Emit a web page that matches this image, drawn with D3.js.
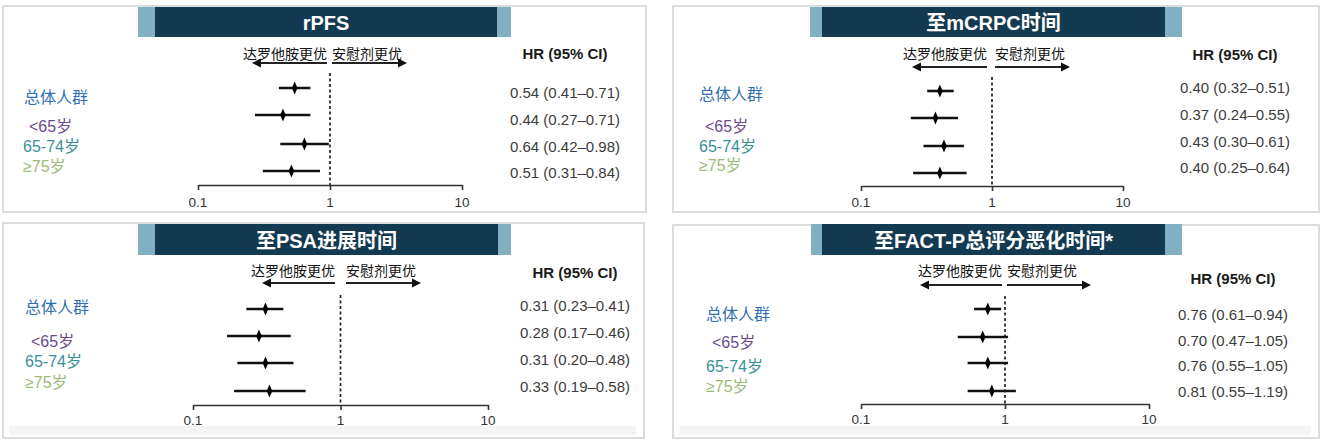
<!DOCTYPE html>
<html>
<head>
<meta charset="utf-8">
<script src="https://cdn.jsdelivr.net/npm/d3@7"></script>
<style>
  html, body { margin: 0; padding: 0; background: #fff; }
  svg { display: block; }
  text { font-family: "Liberation Sans", Arial, "Noto Sans CJK SC", sans-serif; }
</style>
</head>
<body>
<svg id="chart" width="1333" height="446"></svg>
<script>
// ---------- DATA ----------
const panelTitles = ["rPFS", "至mCRPC时间", "至PSA进展时间", "至FACT-P总评分恶化时间*"];
const subgroups = ["总体人群", "<65岁", "65-74岁", "≥75岁"];
const favorLabels = ["达罗他胺更优", "安慰剂更优"];
const hrHeader = "HR (95% CI)";
const tickValues = [0.1, 1, 10];
const tickLabels = ["0.1", "1", "10"];

const hrRPFS = [0.54, 0.44, 0.64, 0.51];
const loRPFS = [0.41, 0.27, 0.42, 0.31];
const hiRPFS = [0.71, 0.71, 0.98, 0.84];

const hrMCRPC = [0.40, 0.37, 0.43, 0.40];
const loMCRPC = [0.32, 0.24, 0.30, 0.25];
const hiMCRPC = [0.51, 0.55, 0.61, 0.64];

const hrPSA = [0.31, 0.28, 0.31, 0.33];
const loPSA = [0.23, 0.17, 0.20, 0.19];
const hiPSA = [0.41, 0.46, 0.48, 0.58];

const hrFACT = [0.76, 0.70, 0.76, 0.81];
const loFACT = [0.61, 0.47, 0.55, 0.55];
const hiFACT = [0.94, 1.05, 1.05, 1.19];

const panelData = [
  { hr: hrRPFS, lo: loRPFS, hi: hiRPFS },
  { hr: hrMCRPC, lo: loMCRPC, hi: hiMCRPC },
  { hr: hrPSA, lo: loPSA, hi: hiPSA },
  { hr: hrFACT, lo: loFACT, hi: hiFACT }
];

// ---------- LAYOUT / STYLE ----------
const labelColors = ["#2f6fb3", "#6b4a8f", "#3a8f98", "#9cba78"];
const layouts = [
  { box: [3, 6, 646, 212], light: [138, 511], dark: [155, 497], barY: [7, 37],
    axis: [198, 462], axisY: 185, tickLabY: 202, dashTop: 73,
    arrowY: 63, leftArrow: [327, 252], rightArrow: [332, 407], favorY: 54,
    rowY: [88, 115, 144, 171],
    labX: [24, 29, 23, 23], labY: [97, 126, 146, 166],
    hrX: 565, hrHeadY: 53, hrY: [92, 119, 146, 172], band: false },
  { box: [673, 6, 1319, 212], light: [810, 1182], dark: [822, 1165], barY: [7, 37],
    axis: [861, 1123], axisY: 186, tickLabY: 202, dashTop: 77,
    arrowY: 67, leftArrow: [987, 912], rightArrow: [995, 1070], favorY: 54,
    rowY: [91, 118, 146, 173],
    labX: [699, 705, 699, 699], labY: [94, 126, 146, 165],
    hrX: 1235, hrHeadY: 54, hrY: [87, 114, 141, 167], band: false },
  { box: [3, 223, 644, 438], light: [138, 511], dark: [155, 498], barY: [224, 255],
    axis: [193, 488], axisY: 405, tickLabY: 420, dashTop: 295,
    arrowY: 283, leftArrow: [335, 262], rightArrow: [346, 421], favorY: 271,
    rowY: [309, 336, 363, 391],
    labX: [25, 31, 25, 25], labY: [307, 341, 361, 382],
    hrX: 575, hrHeadY: 272, hrY: [305, 332, 359, 386], band: true },
  { box: [673, 225, 1319, 438], light: [811, 1182], dark: [822, 1165], barY: [224, 255],
    axis: [861, 1149], axisY: 404, tickLabY: 419, dashTop: 296,
    arrowY: 285, leftArrow: [1002, 920], rightArrow: [1007, 1091], favorY: 271,
    rowY: [309, 337, 363, 391],
    labX: [706, 712, 706, 706], labY: [314, 342, 366, 386],
    hrX: 1233, hrHeadY: 278, hrY: [314, 340, 365, 391], band: true }
];

const svg = d3.select("#chart");
const fmt = d3.format(".2f");

panelTitles.forEach((title, p) => {
  const L = layouts[p];
  const D = panelData[p];
  const g = svg.append("g");

  // panel frame
  if (L.band) {
    g.append("rect").attr("x", L.box[0] + 6).attr("y", L.box[3] - 12)
      .attr("width", L.box[2] - L.box[0] - 14).attr("height", 9)
      .attr("fill", "#f4f4f4");
  }
  g.append("rect")
    .attr("x", L.box[0]).attr("y", L.box[1])
    .attr("width", L.box[2] - L.box[0]).attr("height", L.box[3] - L.box[1])
    .attr("fill", "none").attr("stroke", "#dcdcdc").attr("stroke-width", 2);

  // title bar
  g.append("rect").attr("x", L.light[0]).attr("y", L.barY[0])
    .attr("width", L.light[1] - L.light[0]).attr("height", L.barY[1] - L.barY[0])
    .attr("fill", "#80b0c1");
  g.append("rect").attr("x", L.dark[0]).attr("y", L.barY[0])
    .attr("width", L.dark[1] - L.dark[0]).attr("height", L.barY[1] - L.barY[0])
    .attr("fill", "#143a51");
  g.append("text")
    .attr("x", (L.dark[0] + L.dark[1]) / 2).attr("y", (L.barY[0] + L.barY[1]) / 2 + 1)
    .attr("text-anchor", "middle").attr("dominant-baseline", "central")
    .attr("fill", "#ffffff").attr("font-weight", "bold").attr("font-size", 20)
    .text(title);

  // scale
  const x = d3.scaleLog().domain([0.1, 10]).range(L.axis);

  // axis
  const axis = d3.axisBottom(x).tickValues(tickValues)
    .tickFormat((d, i) => tickLabels[i]).tickSizeInner(5).tickSizeOuter(0).tickPadding(4);
  const ax = g.append("g").attr("transform", `translate(0,${L.axisY})`).call(axis);
  ax.select(".domain").attr("stroke", "#333").attr("stroke-width", 1.6);
  ax.selectAll(".tick line").attr("stroke", "#333").attr("stroke-width", 1.6);
  ax.selectAll(".tick text").remove();
  g.selectAll(".ticklab").data(tickValues).enter().append("text")
    .attr("x", d => x(d)).attr("y", L.tickLabY)
    .attr("text-anchor", "middle").attr("dominant-baseline", "central")
    .attr("font-size", 13.5).attr("fill", "#333")
    .text((d, i) => tickLabels[i]);

  // reference dashed line at HR = 1
  g.append("line").attr("x1", x(1)).attr("x2", x(1))
    .attr("y1", L.dashTop).attr("y2", L.axisY)
    .attr("stroke", "#222").attr("stroke-width", 1.7).attr("stroke-dasharray", "3,2.5");

  // favor arrows
  const drawArrow = (from, to) => {
    const dir = Math.sign(to - from);
    g.append("line").attr("x1", from).attr("x2", to - dir * 6)
      .attr("y1", L.arrowY).attr("y2", L.arrowY)
      .attr("stroke", "#222").attr("stroke-width", 2);
    g.append("path")
      .attr("d", `M${to},${L.arrowY} L${to - dir * 9},${L.arrowY - 4.5} L${to - dir * 9},${L.arrowY + 4.5} Z`)
      .attr("fill", "#111");
  };
  drawArrow(L.leftArrow[0], L.leftArrow[1]);
  drawArrow(L.rightArrow[0], L.rightArrow[1]);
  g.append("text").attr("x", L.leftArrow[0]).attr("y", L.favorY)
    .attr("text-anchor", "end").attr("dominant-baseline", "central")
    .attr("font-size", 14).attr("fill", "#111").text(favorLabels[0]);
  g.append("text").attr("x", L.rightArrow[0]).attr("y", L.favorY)
    .attr("text-anchor", "start").attr("dominant-baseline", "central")
    .attr("font-size", 14).attr("fill", "#111").text(favorLabels[1]);

  // CI lines and point markers
  const rows = g.selectAll(".row").data(D.hr).enter().append("g");
  rows.append("line")
    .attr("x1", (d, i) => x(D.lo[i])).attr("x2", (d, i) => x(D.hi[i]))
    .attr("y1", (d, i) => L.rowY[i]).attr("y2", (d, i) => L.rowY[i])
    .attr("stroke", "#111").attr("stroke-width", 2.6);
  rows.append("path")
    .attr("d", "M0,-6.5 L2.8,0 L0,6.5 L-2.8,0 Z")
    .attr("transform", (d, i) => `translate(${x(d)},${L.rowY[i]})`)
    .attr("fill", "#000");

  // subgroup labels
  g.selectAll(".lab").data(subgroups).enter().append("text")
    .attr("x", (d, i) => L.labX[i]).attr("y", (d, i) => L.labY[i])
    .attr("dominant-baseline", "central")
    .attr("font-size", 16).attr("fill", (d, i) => labelColors[i])
    .text(d => d);

  // HR column
  g.append("text").attr("x", L.hrX).attr("y", L.hrHeadY)
    .attr("text-anchor", "middle").attr("dominant-baseline", "central")
    .attr("font-size", 15).attr("font-weight", "bold").attr("fill", "#1a1a1a")
    .text(hrHeader);
  g.selectAll(".hr").data(D.hr).enter().append("text")
    .attr("x", L.hrX).attr("y", (d, i) => L.hrY[i])
    .attr("text-anchor", "middle").attr("dominant-baseline", "central")
    .attr("font-size", 15).attr("fill", "#3c3c3c")
    .text((d, i) => `${fmt(d)} (${fmt(D.lo[i])}–${fmt(D.hi[i])})`);
});
</script>
</body>
</html>
